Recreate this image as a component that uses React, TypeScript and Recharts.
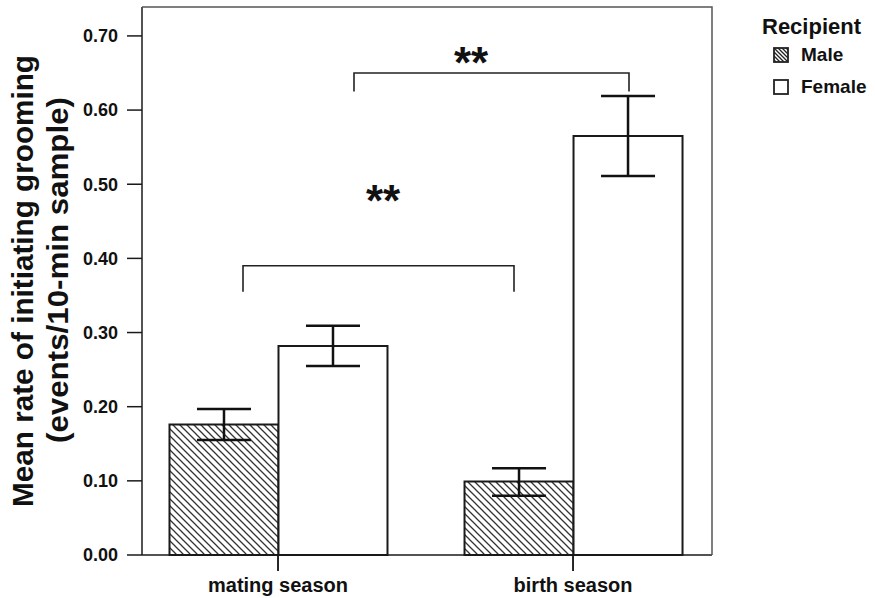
import React from "react";
import { BarChart, Bar, XAxis, YAxis, ErrorBar } from "recharts";

const seasons = ["mating season", "birth season"];
const maleMeans = [0.176, 0.099];
const maleErrLow = [0.021, 0.019];
const maleErrHigh = [0.021, 0.018];
const femaleMeans = [0.282, 0.565];
const femaleErrLow = [0.027, 0.054];
const femaleErrHigh = [0.027, 0.054];
const yTicks = [0, 0.1, 0.2, 0.3, 0.4, 0.5, 0.6, 0.7];

const data = seasons.map((s, i) => ({
  pos: i,
  season: s,
  male: maleMeans[i],
  maleErr: [maleErrLow[i], maleErrHigh[i]],
  female: femaleMeans[i],
  femaleErr: [femaleErrLow[i], femaleErrHigh[i]],
}));

const W = 875;
const H = 598;
const PLOT = { left: 142, right: 712, top: 7, bottom: 555 };
const Y_MAX = 0.739;
const X_DOMAIN = [-0.461, 1.471];
const FONT = "'Liberation Sans', Arial, sans-serif";
const INK = "#1a1a1a";

// value -> pixel, same domains as the axes, used for the annotations
const yPx = (v: number) =>
  PLOT.bottom - (v / Y_MAX) * (PLOT.bottom - PLOT.top);
const xPx = (v: number) =>
  PLOT.left + ((v - X_DOMAIN[0]) / (X_DOMAIN[1] - X_DOMAIN[0])) * (PLOT.right - PLOT.left);

function LegendBox() {
  const row = { display: "flex", alignItems: "center", height: 20, fontSize: 19, marginLeft: 11 };
  return (
    <div
      style={{
        position: "absolute",
        left: 762,
        top: 14,
        fontFamily: FONT,
        fontWeight: 700,
        color: "#111",
        lineHeight: "20px",
      }}
    >
      <div style={{ fontSize: 22, height: 25, lineHeight: "25px" }}>Recipient</div>
      <div style={{ ...row, marginTop: 6 }}>
        <svg width={16} height={16} style={{ marginRight: 12 }}>
          <defs>
            <pattern id="legHatch" width={4} height={4} patternUnits="userSpaceOnUse">
              <rect width={4} height={4} fill="#fff" />
              <path d="M-1,-1 L5,5 M-1,3 L1,5 M3,-1 L5,1" stroke="#222" strokeWidth={1.3} />
            </pattern>
          </defs>
          <rect x={1} y={1} width={14} height={14} fill="url(#legHatch)" stroke="#222" strokeWidth={1.8} />
        </svg>
        Male
      </div>
      <div style={{ ...row, marginTop: 12 }}>
        <svg width={16} height={16} style={{ marginRight: 12 }}>
          <rect x={1} y={1} width={14} height={14} fill="#fff" stroke="#222" strokeWidth={1.8} />
        </svg>
        Female
      </div>
    </div>
  );
}

export default function App() {
  const tickStyle = { fill: "#111", fontSize: 18, fontWeight: 700, fontFamily: FONT };
  return (
    <div style={{ position: "absolute", left: 0, top: 0, width: W, height: H, background: "#fff" }}>
      <BarChart
        width={W}
        height={H}
        data={data}
        margin={{ top: PLOT.top, right: W - PLOT.right, bottom: 0, left: 0 }}
        barGap={0}
        barSize={109}
      >
        <defs>
          <pattern id="hatch" width={7} height={7} patternUnits="userSpaceOnUse">
            <rect width={7} height={7} fill="#fff" />
            <path d="M-1,-1 L8,8 M-1,6 L1,8 M6,-1 L8,1" stroke="#333" strokeWidth={1.3} />
          </pattern>
        </defs>
        <XAxis
          dataKey="pos"
          type="number"
          domain={X_DOMAIN}
          ticks={[0, 1]}
          allowDataOverflow
          tickFormatter={(i: number) => seasons[i]}
          height={H - PLOT.bottom}
          tick={{ ...tickStyle, fontSize: 20 }}
          tickLine={{ stroke: INK, strokeWidth: 1.5 }}
          tickSize={16}
          tickMargin={7}
          stroke={INK}
          strokeWidth={1.5}
        />
        <YAxis
          width={PLOT.left}
          domain={[0, Y_MAX]}
          ticks={yTicks}
          tickFormatter={(v: number) => v.toFixed(2)}
          tick={tickStyle}
          tickSize={15}
          tickMargin={9}
          stroke={INK}
          strokeWidth={1.5}
          interval={0}
        />
        <Bar dataKey="male" fill="url(#hatch)" stroke={INK} strokeWidth={2} isAnimationActive={false}>
          <ErrorBar dataKey="maleErr" width={27} stroke="#111" strokeWidth={2.5} />
        </Bar>
        <Bar dataKey="female" fill="#fff" stroke={INK} strokeWidth={2} isAnimationActive={false}>
          <ErrorBar dataKey="femaleErr" width={27} stroke="#111" strokeWidth={2.5} />
        </Bar>
      </BarChart>

      <LegendBox />

      {/* frame, x ticks, axis title, significance brackets */}
      <svg width={W} height={H} style={{ position: "absolute", left: 0, top: 0, pointerEvents: "none" }}>
        <path
          d={`M${PLOT.left},${PLOT.top} L${PLOT.right},${PLOT.top} L${PLOT.right},${PLOT.bottom}`}
          fill="none"
          stroke="#555"
          strokeWidth={1.5}
        />
        {seasons.map((s, i) => (
          <line
            key={s}
            x1={xPx(i)}
            x2={xPx(i)}
            y1={PLOT.bottom}
            y2={PLOT.bottom + 16}
            stroke={INK}
            strokeWidth={1.5}
          />
        ))}
        <g fontFamily={FONT} fontWeight={700} fontSize={30} fill="#111" textAnchor="middle">
          <text transform="translate(33,281) rotate(-90)" textLength={452} lengthAdjust="spacingAndGlyphs">
            Mean rate of initiating grooming
          </text>
          <text transform="translate(68,270) rotate(-90)" textLength={346} lengthAdjust="spacingAndGlyphs">
            (events/10-min sample)
          </text>
        </g>
        <path
          d={`M243,${yPx(0.355)} L243,${yPx(0.39)} L514,${yPx(0.39)} L514,${yPx(0.355)}`}
          fill="none"
          stroke="#222"
          strokeWidth={1.6}
        />
        <path
          d={`M354,${yPx(0.625)} L354,${yPx(0.65)} L629,${yPx(0.65)} L629,${yPx(0.625)}`}
          fill="none"
          stroke="#222"
          strokeWidth={1.6}
        />
        <g fontFamily={FONT} fontWeight={700} fontSize={44} fill="#111" textAnchor="middle">
          <text x={383} y={216}>**</text>
          <text x={471} y={78}>**</text>
        </g>
      </svg>
    </div>
  );
}
